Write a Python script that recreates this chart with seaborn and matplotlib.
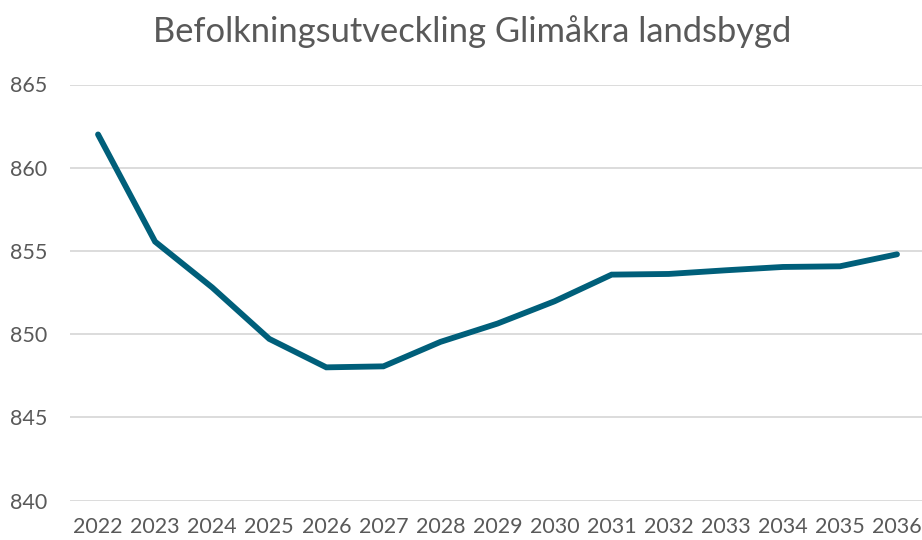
import matplotlib
matplotlib.use("Agg")
import matplotlib.pyplot as plt
import seaborn as sns
import pandas as pd

years = ["2022", "2023", "2024", "2025", "2026", "2027", "2028", "2029",
         "2030", "2031", "2032", "2033", "2034", "2035", "2036"]
population = [862.0, 855.56, 852.81, 849.72, 848.01, 848.07, 849.54, 850.64,
              851.98, 853.58, 853.62, 853.84, 854.04, 854.08, 854.8]
y_ticks = [840, 845, 850, 855, 860, 865]

title = "Befolkningsutveckling Glimåkra landsbygd"
line_color = "#005F7A"
text_color = "#595959"
grid_color = "#D9D9D9"

sns.set_theme(style="white")
plt.rcParams["font.family"] = ["Lato", "DejaVu Sans"]

df = pd.DataFrame({"year": years, "population": population})

fig = plt.figure(figsize=(9.22, 5.40), dpi=100)
ax = fig.add_axes([69.5 / 922, 1 - 500.7 / 540, (922 - 69.5) / 922, (500.7 - 84.5) / 540])

sns.lineplot(data=df, x="year", y="population", ax=ax, color=line_color,
             linewidth=4.2, sort=False, solid_capstyle="round", solid_joinstyle="miter")

ax.set_ylim(840, 865)
ax.set_xlim(-0.5, 14 + 25 / 57.07)
ax.set_yticks(y_ticks)
ax.set_yticklabels([str(v) for v in y_ticks])
ax.yaxis.grid(True, color=grid_color, linewidth=1.3)
ax.set_axisbelow(True)
for s in ax.spines.values():
    s.set_visible(False)
ax.tick_params(axis="both", length=0, labelsize=15.5, labelcolor=text_color)
ax.tick_params(axis="y", pad=16)
ax.tick_params(axis="x", pad=12)
ax.set_xlabel("")
ax.set_ylabel("")

fig.text(0.512, 1 - 32 / 540, title, ha="center", va="center",
         fontsize=24.8, color=text_color)

fig.savefig("out.png", dpi=100, facecolor="white")
